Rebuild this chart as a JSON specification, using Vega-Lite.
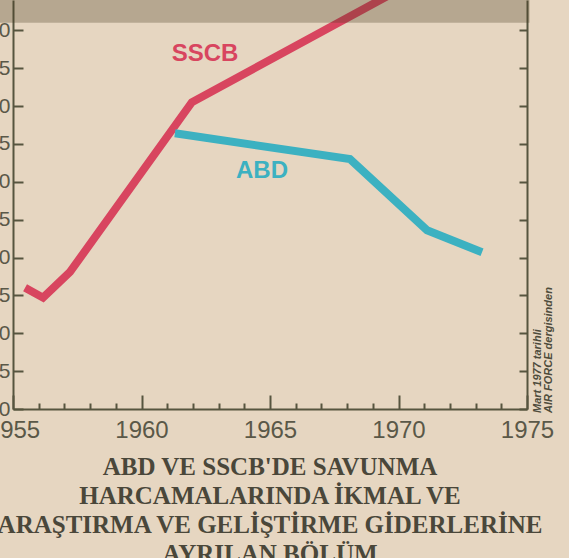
{
  "$schema": "https://vega.github.io/schema/vega-lite/v6.json",
  "width": 514,
  "height": 409,
  "autosize": "none",
  "padding": {"left": 13, "top": 0, "right": 42, "bottom": 149},
  "background": "#e6d6c1",
  "config": {"view": {"stroke": null}},
  "title": {
    "text": ["ABD VE SSCB'DE SAVUNMA", "HARCAMALARINDA İKMAL VE", "ARAŞTIRMA VE GELİŞTİRME GİDERLERİNE", "AYRILAN BÖLÜM"],
    "orient": "bottom",
    "anchor": "middle",
    "frame": "group",
    "font": "Liberation Serif",
    "fontSize": 25,
    "fontWeight": "bold",
    "color": "#4a473a",
    "lineHeight": 29,
    "offset": 5
  },
  "resolve": {"axis": {"y": "independent", "x": "independent"}},
  "layer": [
    {
      "data": {"values": [
        {"series": "SSCB", "year": 1955.47, "value": 16.0},
        {"series": "SSCB", "year": 1956.17, "value": 14.7},
        {"series": "SSCB", "year": 1957.22, "value": 18.1},
        {"series": "SSCB", "year": 1961.96, "value": 40.5},
        {"series": "SSCB", "year": 1969.94, "value": 55.2},
        {"series": "ABD", "year": 1961.3, "value": 36.4},
        {"series": "ABD", "year": 1968.11, "value": 33.0},
        {"series": "ABD", "year": 1971.11, "value": 23.6},
        {"series": "ABD", "year": 1973.25, "value": 20.7}
      ]},
      "mark": {"type": "line", "strokeWidth": 8, "clip": true, "strokeCap": "butt"},
      "encoding": {
        "x": {
          "field": "year", "type": "quantitative",
          "scale": {"domain": [1955, 1975], "nice": false, "zero": false},
          "axis": {
            "values": [1955,1956,1957,1958,1959,1960,1961,1962,1963,1964,1965,1966,1967,1968,1969,1970,1971,1972,1973,1974,1975],
            "format": "d",
            "labelExpr": "datum.value % 5 === 0 ? datum.label : ''",
            "tickSize": {"condition": {"test": "datum.value % 5 === 0", "value": -14}, "value": -6},
            "domainColor": "#56553f", "domainWidth": 2,
            "tickColor": "#56553f", "tickWidth": 2,
            "labelFontSize": 24, "labelFont": "Liberation Sans", "labelColor": "#5a5848",
            "labelPadding": 23, "labelFlush": false, "labelOverlap": false,
            "title": null, "grid": false
          }
        },
        "y": {
          "field": "value", "type": "quantitative",
          "scale": {"domain": [0, 54], "nice": false},
          "axis": {
            "values": [0,5,10,15,20,25,30,35,40,45,50],
            "tickSize": -10,
            "domainColor": "#56553f", "domainWidth": 2,
            "tickColor": "#56553f", "tickWidth": 2,
            "labelFontSize": 21, "labelFont": "Liberation Sans", "labelColor": "#5a5848",
            "labelPadding": 13, "labelFlush": false, "labelOverlap": false,
            "title": null, "grid": false
          }
        },
        "color": {
          "field": "series", "type": "nominal",
          "scale": {"domain": ["SSCB", "ABD"], "range": ["#d8455f", "#3cb1c1"]},
          "legend": null
        }
      }
    },
    {
      "data": {"values": [
        {"series": "SSCB", "label": "SSCB", "year": 1962.47, "value": 46.9},
        {"series": "ABD", "label": "ABD", "year": 1964.69, "value": 31.4}
      ]},
      "mark": {"type": "text", "font": "Liberation Sans", "fontWeight": "bold", "fontSize": 24, "align": "center", "baseline": "middle"},
      "encoding": {
        "x": {"field": "year", "type": "quantitative", "axis": null},
        "y": {
          "field": "value", "type": "quantitative",
          "axis": {
            "orient": "right",
            "values": [0,5,10,15,20,25,30,35,40,45,50],
            "tickSize": -8,
            "labels": false,
            "domainColor": "#56553f", "domainWidth": 2,
            "tickColor": "#56553f", "tickWidth": 2,
            "title": null, "grid": false
          }
        },
        "text": {"field": "label"},
        "color": {"field": "series", "type": "nominal", "legend": null}
      }
    },
    {
      "data": {"values": [
        {"x1": 1954.49, "x2": 1975.1, "y1": 51.0, "y2": 54}
      ]},
      "mark": {"type": "rect", "fill": "#4a3a20", "opacity": 0.3, "clip": false},
      "encoding": {
        "x": {"field": "x1", "type": "quantitative", "axis": null},
        "x2": {"field": "x2"},
        "y": {"field": "y1", "type": "quantitative", "axis": null},
        "y2": {"field": "y2"}
      }
    },
    {
      "data": {"values": [
        {"year": 1975.19, "value": -0.53, "note": ["Mart 1977 tarihli", "AIR FORCE dergisinden"]}
      ]},
      "mark": {"type": "text", "angle": 270, "align": "left", "baseline": "top", "font": "Liberation Sans", "fontStyle": "italic", "fontWeight": "bold", "fontSize": 11, "lineHeight": 11, "color": "#4e4c3c", "clip": false},
      "encoding": {
        "x": {"field": "year", "type": "quantitative", "axis": null},
        "y": {"field": "value", "type": "quantitative", "axis": null},
        "text": {"field": "note"}
      }
    }
  ]
}
